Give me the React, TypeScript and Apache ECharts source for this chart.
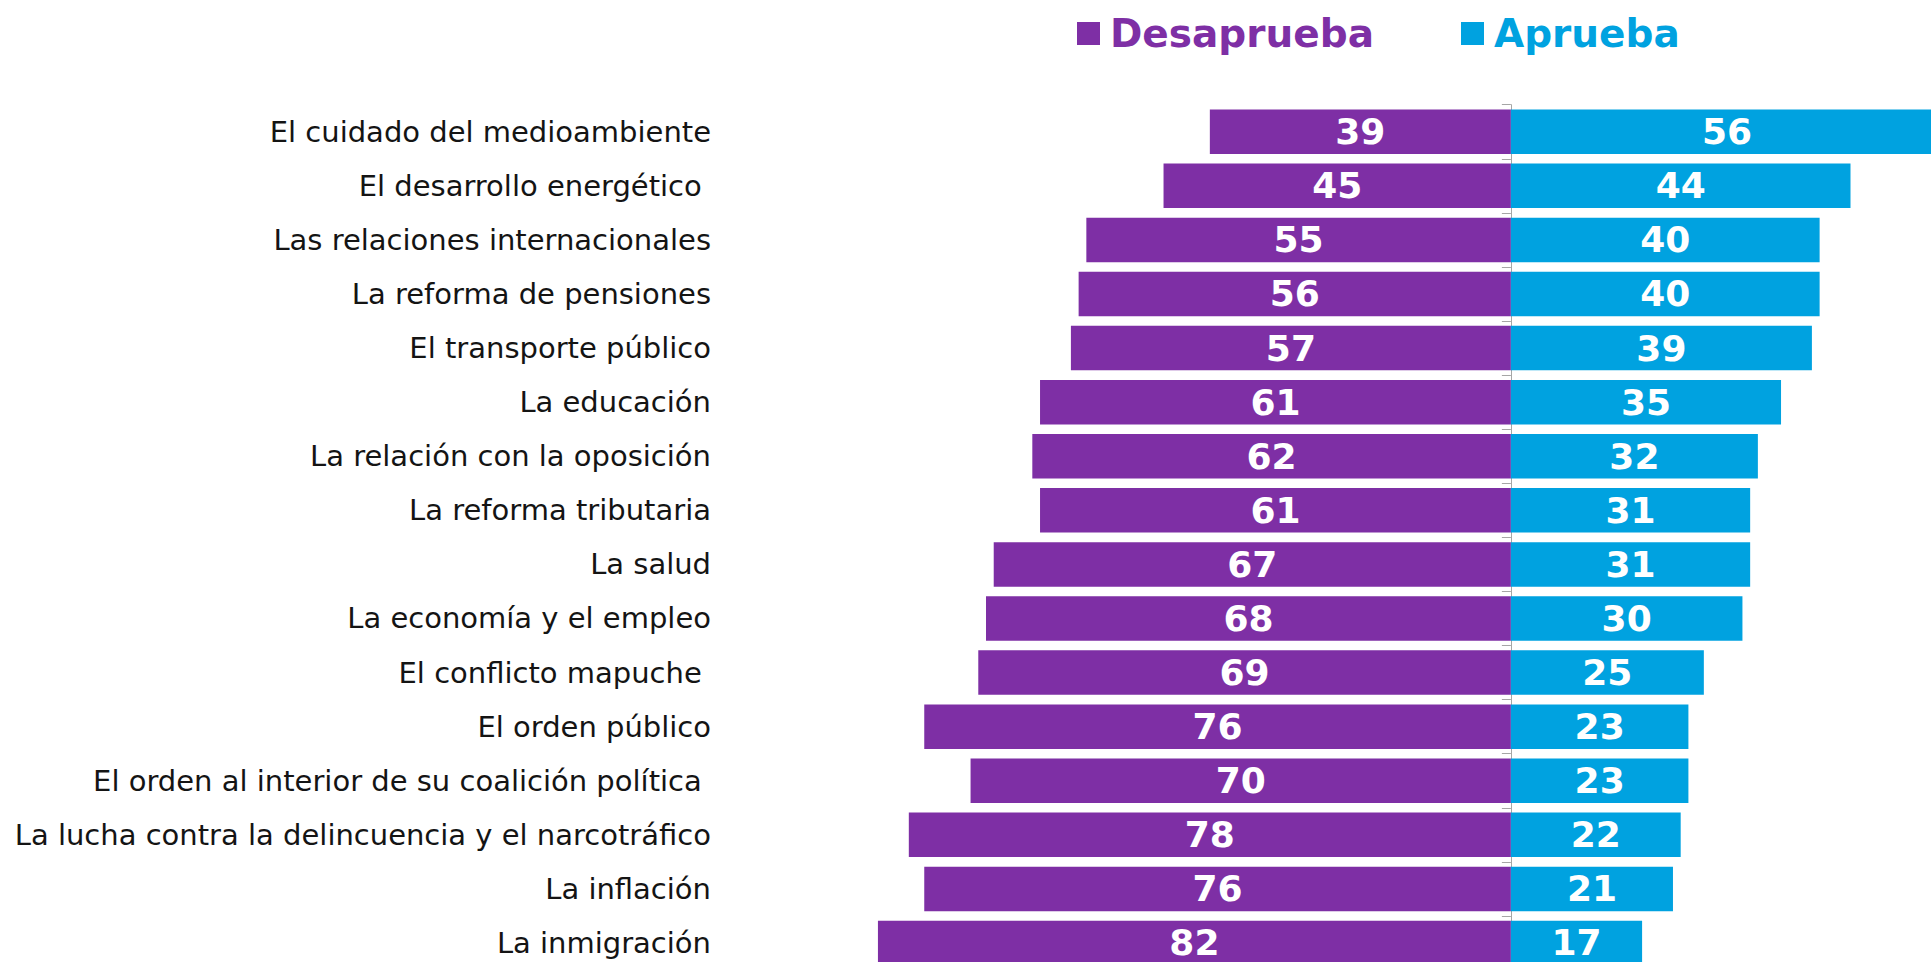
import React, { useEffect, useRef } from "react";
import * as echarts from "echarts";

const categories = [
  "El cuidado del medioambiente",
  "El desarrollo energético ",
  "Las relaciones internacionales",
  "La reforma de pensiones",
  "El transporte público",
  "La educación",
  "La relación con la oposición",
  "La reforma tributaria",
  "La salud",
  "La economía y el empleo",
  "El conflicto mapuche ",
  "El orden público",
  "El orden al interior de su coalición política ",
  "La lucha contra la delincuencia y el narcotráfico",
  "La inflación",
  "La inmigración",
];

const desaprueba = [39, 45, 55, 56, 57, 61, 62, 61, 67, 68, 69, 76, 70, 78, 76, 82];
const aprueba = [56, 44, 40, 40, 39, 35, 32, 31, 31, 30, 25, 23, 23, 22, 21, 17];

const PURPLE = "#7e2fa5";
const BLUE = "#00a2e0";

export default function App() {
  const ref = useRef<HTMLDivElement>(null);

  useEffect(() => {
    if (!ref.current) return;
    document.documentElement.style.overflow = "hidden";
    document.body.style.overflow = "hidden";
    const chart = echarts.init(ref.current, undefined, { renderer: "svg" });
    const numFont = {
      color: "#ffffff",
      fontFamily: "DejaVu Sans",
      fontWeight: "bold" as const,
      fontSize: 36,
    };
    const legendText = (color: string) => ({
      color,
      fontFamily: "DejaVu Sans",
      fontWeight: "bold" as const,
      fontSize: 39,
      padding: [0, 0, 0, 5],
    });
    chart.setOption({
      animation: false,
      backgroundColor: "#ffffff",
      legend: [
        {
          data: ["Desaprueba"],
          left: 1072,
          top: 9,
          icon: "rect",
          itemWidth: 23,
          itemHeight: 23,
          selectedMode: false,
          textStyle: legendText(PURPLE),
        },
        {
          data: ["Aprueba"],
          left: 1456,
          top: 9,
          icon: "rect",
          itemWidth: 23,
          itemHeight: 23,
          selectedMode: false,
          textStyle: legendText(BLUE),
        },
      ],
      grid: {
        left: 739,
        right: 0,
        top: 104.7,
        bottom: 0,
        containLabel: false,
      },
      xAxis: {
        type: "value",
        min: -100,
        max: 60,
        show: false,
      },
      yAxis: [
        {
          type: "category",
          data: categories,
          inverse: true,
          position: "left",
          axisLine: { show: false, onZero: false },
          axisTick: { show: false },
          splitLine: { show: false },
          axisLabel: {
            margin: 28,
            color: "#141414",
            fontFamily: "DejaVu Sans",
            fontSize: 29,
          },
        },
        {
          type: "category",
          data: categories,
          inverse: true,
          position: "left",
          axisLine: { show: true, onZero: true, lineStyle: { color: "#a6a6a6", width: 1 } },
          axisTick: { show: true, length: 9, lineStyle: { color: "#a6a6a6", width: 1 } },
          axisLabel: { show: false },
          splitLine: { show: false },
        },
      ],
      series: [
        {
          name: "Desaprueba",
          type: "bar",
          stack: "total",
          yAxisIndex: 0,
          barWidth: 44.5,
          itemStyle: { color: PURPLE },
          data: desaprueba.map((v) => -v),
          label: {
            show: true,
            position: "inside",
            ...numFont,
            formatter: (p: any) => String(Math.abs(p.value)),
          },
        },
        {
          name: "Aprueba",
          type: "bar",
          stack: "total",
          yAxisIndex: 0,
          barWidth: 44.5,
          itemStyle: { color: BLUE },
          data: aprueba,
          label: {
            show: true,
            position: "inside",
            ...numFont,
          },
        },
      ],
    });
    return () => chart.dispose();
  }, []);

  return (
    <div
      ref={ref}
      style={{ position: "fixed", left: 0, top: 0, width: "1974px", height: "970px" }}
    />
  );
}
